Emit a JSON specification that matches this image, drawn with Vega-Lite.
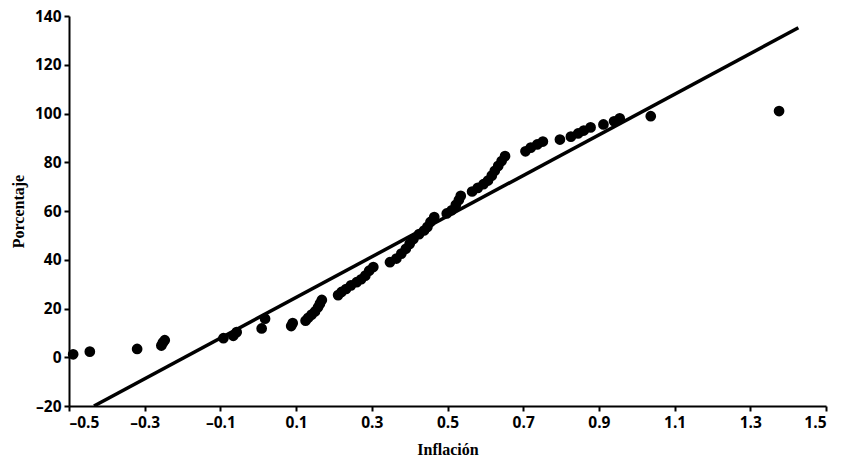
{
  "$schema": "https://vega.github.io/schema/vega-lite/v6.json",
  "width": 757,
  "height": 390,
  "autosize": {"type": "none"},
  "padding": {"left": 69, "top": 16, "right": 28, "bottom": 60},
  "background": "white",
  "config": {
    "view": {"stroke": null},
    "axis": {
      "grid": false,
      "domainColor": "black",
      "domainWidth": 2,
      "tickColor": "black",
      "tickWidth": 2,
      "tickSize": 5,
      "labelColor": "black",
      "labelFont": "Open Sans",
      "labelFontWeight": "bold",
      "labelFontSize": 15.5,
      "titleColor": "black",
      "titleFont": "Liberation Serif",
      "titleFontWeight": "bold",
      "titleFontSize": 16
    }
  },
  "datasets": {
    "pts": [
      {"x": -0.489, "y": 1.2}, {"x": -0.445, "y": 2.3}, {"x": -0.32, "y": 3.4},
      {"x": -0.256, "y": 4.8}, {"x": -0.252, "y": 6.0}, {"x": -0.247, "y": 7.0},
      {"x": -0.092, "y": 7.8}, {"x": -0.066, "y": 8.8}, {"x": -0.057, "y": 10.3},
      {"x": 0.009, "y": 11.8}, {"x": 0.018, "y": 15.8}, {"x": 0.087, "y": 12.8},
      {"x": 0.091, "y": 14.0}, {"x": 0.125, "y": 15.0}, {"x": 0.132, "y": 16.2},
      {"x": 0.141, "y": 17.5}, {"x": 0.15, "y": 18.8}, {"x": 0.158, "y": 20.5},
      {"x": 0.163, "y": 22.0}, {"x": 0.168, "y": 23.5}, {"x": 0.211, "y": 25.5},
      {"x": 0.22, "y": 26.8}, {"x": 0.232, "y": 28.0}, {"x": 0.245, "y": 29.5},
      {"x": 0.26, "y": 30.8}, {"x": 0.272, "y": 32.0}, {"x": 0.283, "y": 33.5},
      {"x": 0.293, "y": 35.5}, {"x": 0.304, "y": 37.0}, {"x": 0.348, "y": 39.0},
      {"x": 0.365, "y": 40.5}, {"x": 0.378, "y": 42.5}, {"x": 0.39, "y": 44.5},
      {"x": 0.4, "y": 46.5}, {"x": 0.41, "y": 48.5}, {"x": 0.425, "y": 50.5},
      {"x": 0.438, "y": 52.0}, {"x": 0.447, "y": 53.5}, {"x": 0.455, "y": 55.5},
      {"x": 0.465, "y": 57.5}, {"x": 0.498, "y": 59.0}, {"x": 0.511, "y": 60.3},
      {"x": 0.522, "y": 62.5}, {"x": 0.53, "y": 64.5}, {"x": 0.535, "y": 66.2},
      {"x": 0.565, "y": 68.0}, {"x": 0.58, "y": 69.5}, {"x": 0.595, "y": 71.0},
      {"x": 0.607, "y": 72.5}, {"x": 0.617, "y": 74.5}, {"x": 0.625, "y": 76.5},
      {"x": 0.634, "y": 78.5}, {"x": 0.643, "y": 80.5}, {"x": 0.652, "y": 82.5},
      {"x": 0.706, "y": 84.5}, {"x": 0.72, "y": 86.0}, {"x": 0.737, "y": 87.3},
      {"x": 0.752, "y": 88.5}, {"x": 0.797, "y": 89.3}, {"x": 0.826, "y": 90.5},
      {"x": 0.845, "y": 91.8}, {"x": 0.86, "y": 93.0}, {"x": 0.878, "y": 94.3},
      {"x": 0.912, "y": 95.5}, {"x": 0.94, "y": 96.8}, {"x": 0.955, "y": 98.0},
      {"x": 1.037, "y": 98.9}, {"x": 1.376, "y": 101.0}
    ],
    "fit": [
      {"x": -0.434, "y": -20},
      {"x": 1.427, "y": 135.2}
    ]
  },
  "layer": [
    {
      "data": {"name": "fit"},
      "mark": {"type": "line", "color": "black", "strokeWidth": 3.5, "clip": true},
      "encoding": {
        "x": {"field": "x", "type": "quantitative"},
        "y": {"field": "y", "type": "quantitative"}
      }
    },
    {
      "data": {"name": "pts"},
      "mark": {"type": "point", "shape": "circle", "filled": true, "color": "black", "opacity": 1, "size": 115},
      "encoding": {
        "x": {
          "field": "x", "type": "quantitative",
          "scale": {"domain": [-0.5, 1.5], "nice": false, "zero": false},
          "axis": {
            "title": "Inflación",
            "values": [-0.5, -0.3, -0.1, 0.1, 0.3, 0.5, 0.7, 0.9, 1.1, 1.3, 1.5],
            "format": ".1f",
            "labelExpr": "replace(datum.label, /[-\u2212]/, '\u2013')",
            "labelPadding": 4,
            "titlePadding": 11
          }
        },
        "y": {
          "field": "y", "type": "quantitative",
          "scale": {"domain": [-20, 140], "nice": false, "zero": false},
          "axis": {
            "title": "Porcentaje",
            "values": [-20, 0, 20, 40, 60, 80, 100, 120, 140],
            "labelExpr": "replace(datum.label, /[-\u2212]/, '\u2013')",
            "labelPadding": 3,
            "titlePadding": 8
          }
        }
      }
    }
  ]
}
